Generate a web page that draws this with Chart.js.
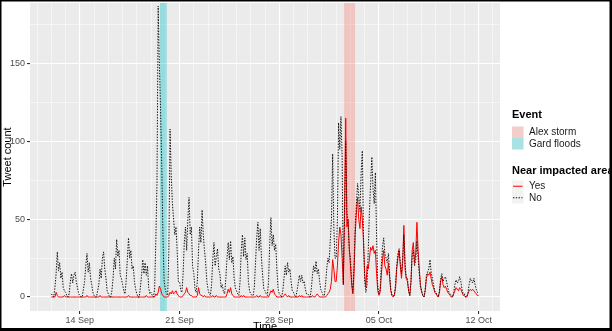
<!DOCTYPE html>
<html>
<head>
<meta charset="utf-8">
<script src="https://cdn.jsdelivr.net/npm/chart.js@4.4.0/dist/chart.umd.min.js"></script>
<style>
  html, body { margin: 0; padding: 0; background: #fff; }
  canvas { display: block; }
</style>
</head>
<body>
<canvas id="tweetChart" width="612" height="331"></canvas>
<script>
"use strict";

// one sample every 2 hours, x counted in days from 12 Sep 00:00
var stepHours = 2;

var weekTicks = [2, 9, 16, 23, 30];
var weekLabels = ['14 Sep', '21 Sep', '28 Sep', '05 Oct', '12 Oct'];
var countTicks = [0, 50, 100, 150];

var eventNames = ['Alex storm', 'Gard floods'];
var eventStart = [20.55, 7.63];
var eventEnd = [21.32, 8.10];

var areaNames = ['Yes', 'No'];

// tweets near the impacted area
var yesCounts = [
  0, 0, 0, 0, 3, 1, 0, 0, 0, 0, 0, 1,          // 12 Sep
  0, 0, 0, 0, 0, 0, 0, 0, 0, 0, 0, 0,
  0, 0, 0, 0, 0, 0, 1, 0, 0, 0, 0, 0,          // 14 Sep
  0, 0, 0, 0, 0, 1, 0, 0, 0, 0, 0, 0,
  0, 0, 0, 0, 0, 0, 0, 0, 0, 0, 0, 0,
  0, 0, 0, 0, 0, 1, 0, 0, 0, 0, 0, 0,
  0, 0, 0, 0, 0, 0, 0, 0, 1, 0, 0, 0,
  0, 0, 0, 0, 2, 1, 3, 7, 5, 2, 1, 0,          // 19 Sep
  0, 0, 0, 1, 3, 2, 4, 2, 3, 4, 2, 1,
  0, 0, 0, 1, 2, 3, 6, 3, 2, 1, 1, 0,          // 21 Sep
  0, 0, 0, 1, 6, 2, 1, 1, 0, 1, 0, 0,
  0, 0, 0, 0, 1, 0, 0, 1, 0, 0, 0, 0,
  0, 0, 0, 0, 2, 5, 3, 6, 2, 1, 0, 0,
  0, 0, 0, 0, 1, 0, 1, 0, 0, 0, 0, 0,
  0, 0, 0, 0, 0, 1, 0, 0, 1, 0, 0, 0,
  0, 0, 0, 0, 2, 4, 3, 5, 2, 1, 0, 0,
  0, 0, 0, 0, 1, 2, 1, 0, 1, 0, 0, 0,          // 28 Sep
  0, 0, 0, 0, 0, 1, 0, 1, 0, 0, 0, 0,
  0, 0, 0, 0, 1, 0, 0, 1, 2, 1, 0, 0,
  0, 0, 0, 0, 1, 2, 3, 5, 10, 24, 18, 10,      // 01 Oct
  10, 20, 35, 45, 40, 25, 8, 55, 115, 45, 50, 32,
  20, 8, 2, 15, 40, 54, 64, 50, 44, 58, 50, 35,
  15, 6, 20, 18, 25, 32, 30, 33, 28, 30, 15, 4,
  1, 3, 14, 24, 30, 20, 18, 14, 22, 12, 4, 1,  // 05 Oct
  0, 1, 6, 18, 25, 30, 20, 12, 22, 46, 18, 12,
  10, 4, 1, 10, 30, 35, 22, 28, 48, 30, 18, 8,
  3, 1, 0, 4, 12, 15, 14, 16, 12, 8, 6, 3,
  2, 1, 0, 3, 10, 13, 8, 6, 7, 5, 3, 2,
  1, 0, 0, 2, 4, 6, 5, 4, 6, 5, 3, 1,
  1, 0, 0, 2, 4, 5, 4, 5, 4, 3, 2, 1,
  1                                            // 12 Oct
];

// tweets away from it
var noCounts = [
  2, 1, 0, 6, 15, 29, 17, 22, 12, 16, 6, 4,        // 12 Sep
  3, 1, 0, 2, 10, 15, 9, 14, 16, 10, 6, 2,
  1, 0, 0, 5, 10, 20, 28, 16, 22, 12, 8, 3,        // 14 Sep
  1, 0, 0, 4, 8, 18, 12, 25, 29, 18, 12, 4,
  2, 0, 0, 4, 12, 25, 18, 37, 26, 30, 14, 12,
  8, 4, 2, 10, 24, 38, 25, 30, 18, 20, 10, 5,
  2, 0, 0, 6, 14, 24, 15, 22, 14, 20, 6, 2,
  3, 1, 0, 5, 36, 74, 187, 150, 120, 85, 40, 10,   // 19 Sep
  5, 2, 1, 30, 108, 78, 60, 50, 40, 45, 30, 10,
  10, 4, 3, 15, 35, 45, 30, 50, 64, 40, 45, 20,    // 21 Sep
  15, 5, 3, 10, 30, 45, 35, 56, 40, 30, 22, 10,
  5, 2, 1, 8, 24, 35, 20, 26, 31, 18, 15, 6,
  8, 3, 2, 12, 25, 35, 24, 36, 22, 26, 12, 6,
  4, 2, 1, 10, 30, 40, 26, 38, 24, 28, 10, 4,
  2, 1, 1, 6, 22, 38, 48, 30, 44, 25, 14, 5,
  4, 2, 1, 10, 35, 51, 33, 40, 30, 34, 18, 6,
  2, 1, 0, 4, 12, 20, 14, 22, 16, 18, 10, 4,       // 28 Sep
  3, 1, 0, 4, 9, 14, 10, 14, 9, 10, 5, 2,
  2, 1, 0, 5, 14, 20, 16, 23, 15, 18, 10, 5,
  3, 1, 1, 8, 18, 25, 22, 36, 50, 92, 45, 25,      // 01 Oct
  25, 50, 112, 95, 116, 90, 8, 50, 100, 55, 48, 30,
  25, 10, 3, 20, 45, 60, 73, 65, 55, 80, 94, 40,
  10, 3, 8, 30, 55, 73, 90, 70, 60, 80, 40, 8,
  2, 5, 20, 32, 38, 28, 25, 22, 28, 15, 5, 1,      // 05 Oct
  1, 1, 8, 20, 28, 31, 22, 15, 25, 40, 22, 12,
  12, 4, 1, 10, 26, 30, 20, 24, 36, 25, 15, 6,
  4, 1, 0, 5, 14, 16, 18, 24, 16, 12, 8, 4,
  3, 1, 0, 4, 12, 15, 10, 12, 13, 10, 6, 3,
  2, 1, 0, 3, 8, 11, 9, 10, 13, 10, 5, 2,
  2, 0, 0, 3, 8, 12, 10, 9, 12, 8, 5, 3,
  2                                                // 12 Oct
];

var eventFill = ['rgba(248, 118, 109, 0.32)', 'rgba(0, 191, 196, 0.36)'];
var eventKeyFill = ['#F3CDCA', '#A8E2E3'];
var lineColors = ['#FF0000', '#111111'];
var fontFamily = "'Liberation Sans', Arial, sans-serif";

Chart.defaults.font.family = fontFamily;

function toPoints(counts) {
  return counts.map(function (v, i) {
    return { x: i * stepHours / 24, y: v };
  });
}

function isWeek(v) {
  return weekTicks.indexOf(v) !== -1;
}

function isMajorCount(v) {
  return countTicks.indexOf(v) !== -1;
}

// panel background, event bands, titles, legend
var ggPanel = {
  id: 'ggPanel',
  beforeDraw: function (chart) {
    var ctx = chart.ctx, a = chart.chartArea;
    ctx.save();
    ctx.fillStyle = '#ffffff';
    ctx.fillRect(0, 0, chart.width, chart.height);
    ctx.fillStyle = '#EBEBEB';
    ctx.fillRect(a.left, a.top, a.right - a.left, a.bottom - a.top);
    ctx.restore();
  },
  beforeDatasetsDraw: function (chart) {
    var ctx = chart.ctx, a = chart.chartArea, xs = chart.scales.x;
    ctx.save();
    for (var i = 0; i < eventNames.length; i++) {
      var x0 = xs.getPixelForValue(eventStart[i]);
      var x1 = xs.getPixelForValue(eventEnd[i]);
      ctx.fillStyle = eventFill[i];
      ctx.fillRect(x0, a.top, x1 - x0, a.bottom - a.top);
    }
    ctx.restore();
  },
  afterDraw: function (chart) {
    var ctx = chart.ctx, a = chart.chartArea;
    ctx.save();

    // axis titles
    ctx.fillStyle = '#000';
    ctx.font = '11px ' + fontFamily;
    ctx.textAlign = 'center';
    ctx.textBaseline = 'top';
    ctx.fillText('Time', (a.left + a.right) / 2, 321);
    ctx.save();
    ctx.translate(8, (a.top + a.bottom) / 2);
    ctx.rotate(-Math.PI / 2);
    ctx.textBaseline = 'middle';
    ctx.fillText('Tweet count', 0, 0);
    ctx.restore();

    // legend
    var lx = 512, key = 11.5;
    ctx.textAlign = 'left';
    ctx.textBaseline = 'middle';
    ctx.font = 'bold 11px ' + fontFamily;
    ctx.fillStyle = '#000';
    ctx.fillText('Event', lx, 115);
    ctx.font = '10px ' + fontFamily;
    for (var i = 0; i < eventNames.length; i++) {
      var ky = 126.5 + i * key;
      ctx.fillStyle = eventKeyFill[i];
      ctx.fillRect(lx, ky, key, key);
      ctx.fillStyle = '#1a1a1a';
      ctx.fillText(eventNames[i], lx + 17, ky + key / 2);
    }

    ctx.font = 'bold 11px ' + fontFamily;
    ctx.fillStyle = '#000';
    ctx.fillText('Near impacted area', lx, 171);
    ctx.font = '10px ' + fontFamily;
    for (var j = 0; j < areaNames.length; j++) {
      var ly = 180.5 + j * key;
      ctx.fillStyle = '#F2F2F2';
      ctx.fillRect(lx, ly, key, key);
      ctx.strokeStyle = lineColors[j];
      ctx.lineWidth = 1;
      ctx.setLineDash(j === 1 ? [1.4, 1.4] : []);
      ctx.beginPath();
      ctx.moveTo(lx + 1, ly + key / 2);
      ctx.lineTo(lx + key - 1, ly + key / 2);
      ctx.stroke();
      ctx.setLineDash([]);
      ctx.fillStyle = '#1a1a1a';
      ctx.fillText(areaNames[j], lx + 17, ly + key / 2);
    }

    // picture frame
    ctx.fillStyle = '#000';
    ctx.fillRect(0, 0, chart.width, 1.5);
    ctx.fillRect(0, 0, 1.5, chart.height);
    ctx.fillRect(0, chart.height - 3, chart.width, 3);
    ctx.fillRect(chart.width - 2.5, 0, 2.5, chart.height);
    ctx.restore();
  }
};

var tweetChart = document.getElementById('tweetChart');
if (tweetChart) {
  new Chart(tweetChart, {
    type: 'line',
    data: {
      datasets: [{
        label: areaNames[0],
        data: toPoints(yesCounts),
        borderColor: lineColors[0],
        borderWidth: 1,
        pointRadius: 0,
        tension: 0,
        order: 2
      }, {
        label: areaNames[1],
        data: toPoints(noCounts),
        borderColor: lineColors[1],
        borderWidth: 1,
        borderDash: [1.4, 1.4],
        pointRadius: 0,
        tension: 0,
        order: 1
      }]
    },
    options: {
      responsive: false,
      animation: false,
      events: [],
      layout: {
        padding: { top: 3, right: 112, left: 0, bottom: 0 }
      },
      scales: {
        x: {
          type: 'linear',
          min: -1.5,
          max: 31.5,
          afterBuildTicks: function (scale) {
            var t = [];
            for (var d = -1; d <= 31; d++) t.push({ value: d });
            scale.ticks = t;
          },
          afterFit: function (scale) {
            scale.height = 20;
            scale.paddingLeft = 0;
            scale.paddingRight = 0;
          },
          border: { display: false },
          grid: {
            color: '#ffffff',
            lineWidth: function (c) { return isWeek(c.tick.value) ? 1.1 : 0.5; },
            tickColor: function (c) { return isWeek(c.tick.value) ? '#333333' : 'rgba(0,0,0,0)'; },
            tickLength: 3
          },
          ticks: {
            autoSkip: false,
            maxRotation: 0,
            padding: 1,
            color: '#4D4D4D',
            font: { size: 9 },
            callback: function (v) {
              var k = weekTicks.indexOf(v);
              return k === -1 ? '' : weekLabels[k];
            }
          }
        },
        y: {
          min: -9,
          max: 189,
          afterBuildTicks: function (scale) {
            var t = [];
            for (var v = 0; v <= 175; v += 25) t.push({ value: v });
            scale.ticks = t;
          },
          afterFit: function (scale) {
            scale.width = 30;
            scale.paddingTop = 0;
            scale.paddingBottom = 0;
          },
          border: { display: false },
          grid: {
            color: '#ffffff',
            lineWidth: function (c) { return isMajorCount(c.tick.value) ? 1.1 : 0.5; },
            tickColor: function (c) { return isMajorCount(c.tick.value) ? '#333333' : 'rgba(0,0,0,0)'; },
            tickLength: 3
          },
          ticks: {
            padding: 2,
            color: '#4D4D4D',
            font: { size: 9 },
            callback: function (v) {
              return isMajorCount(v) ? String(v) : '';
            }
          }
        }
      },
      plugins: {
        legend: { display: false },
        tooltip: { enabled: false }
      }
    },
    plugins: [ggPanel]
  });
}
</script>
</body>
</html>
